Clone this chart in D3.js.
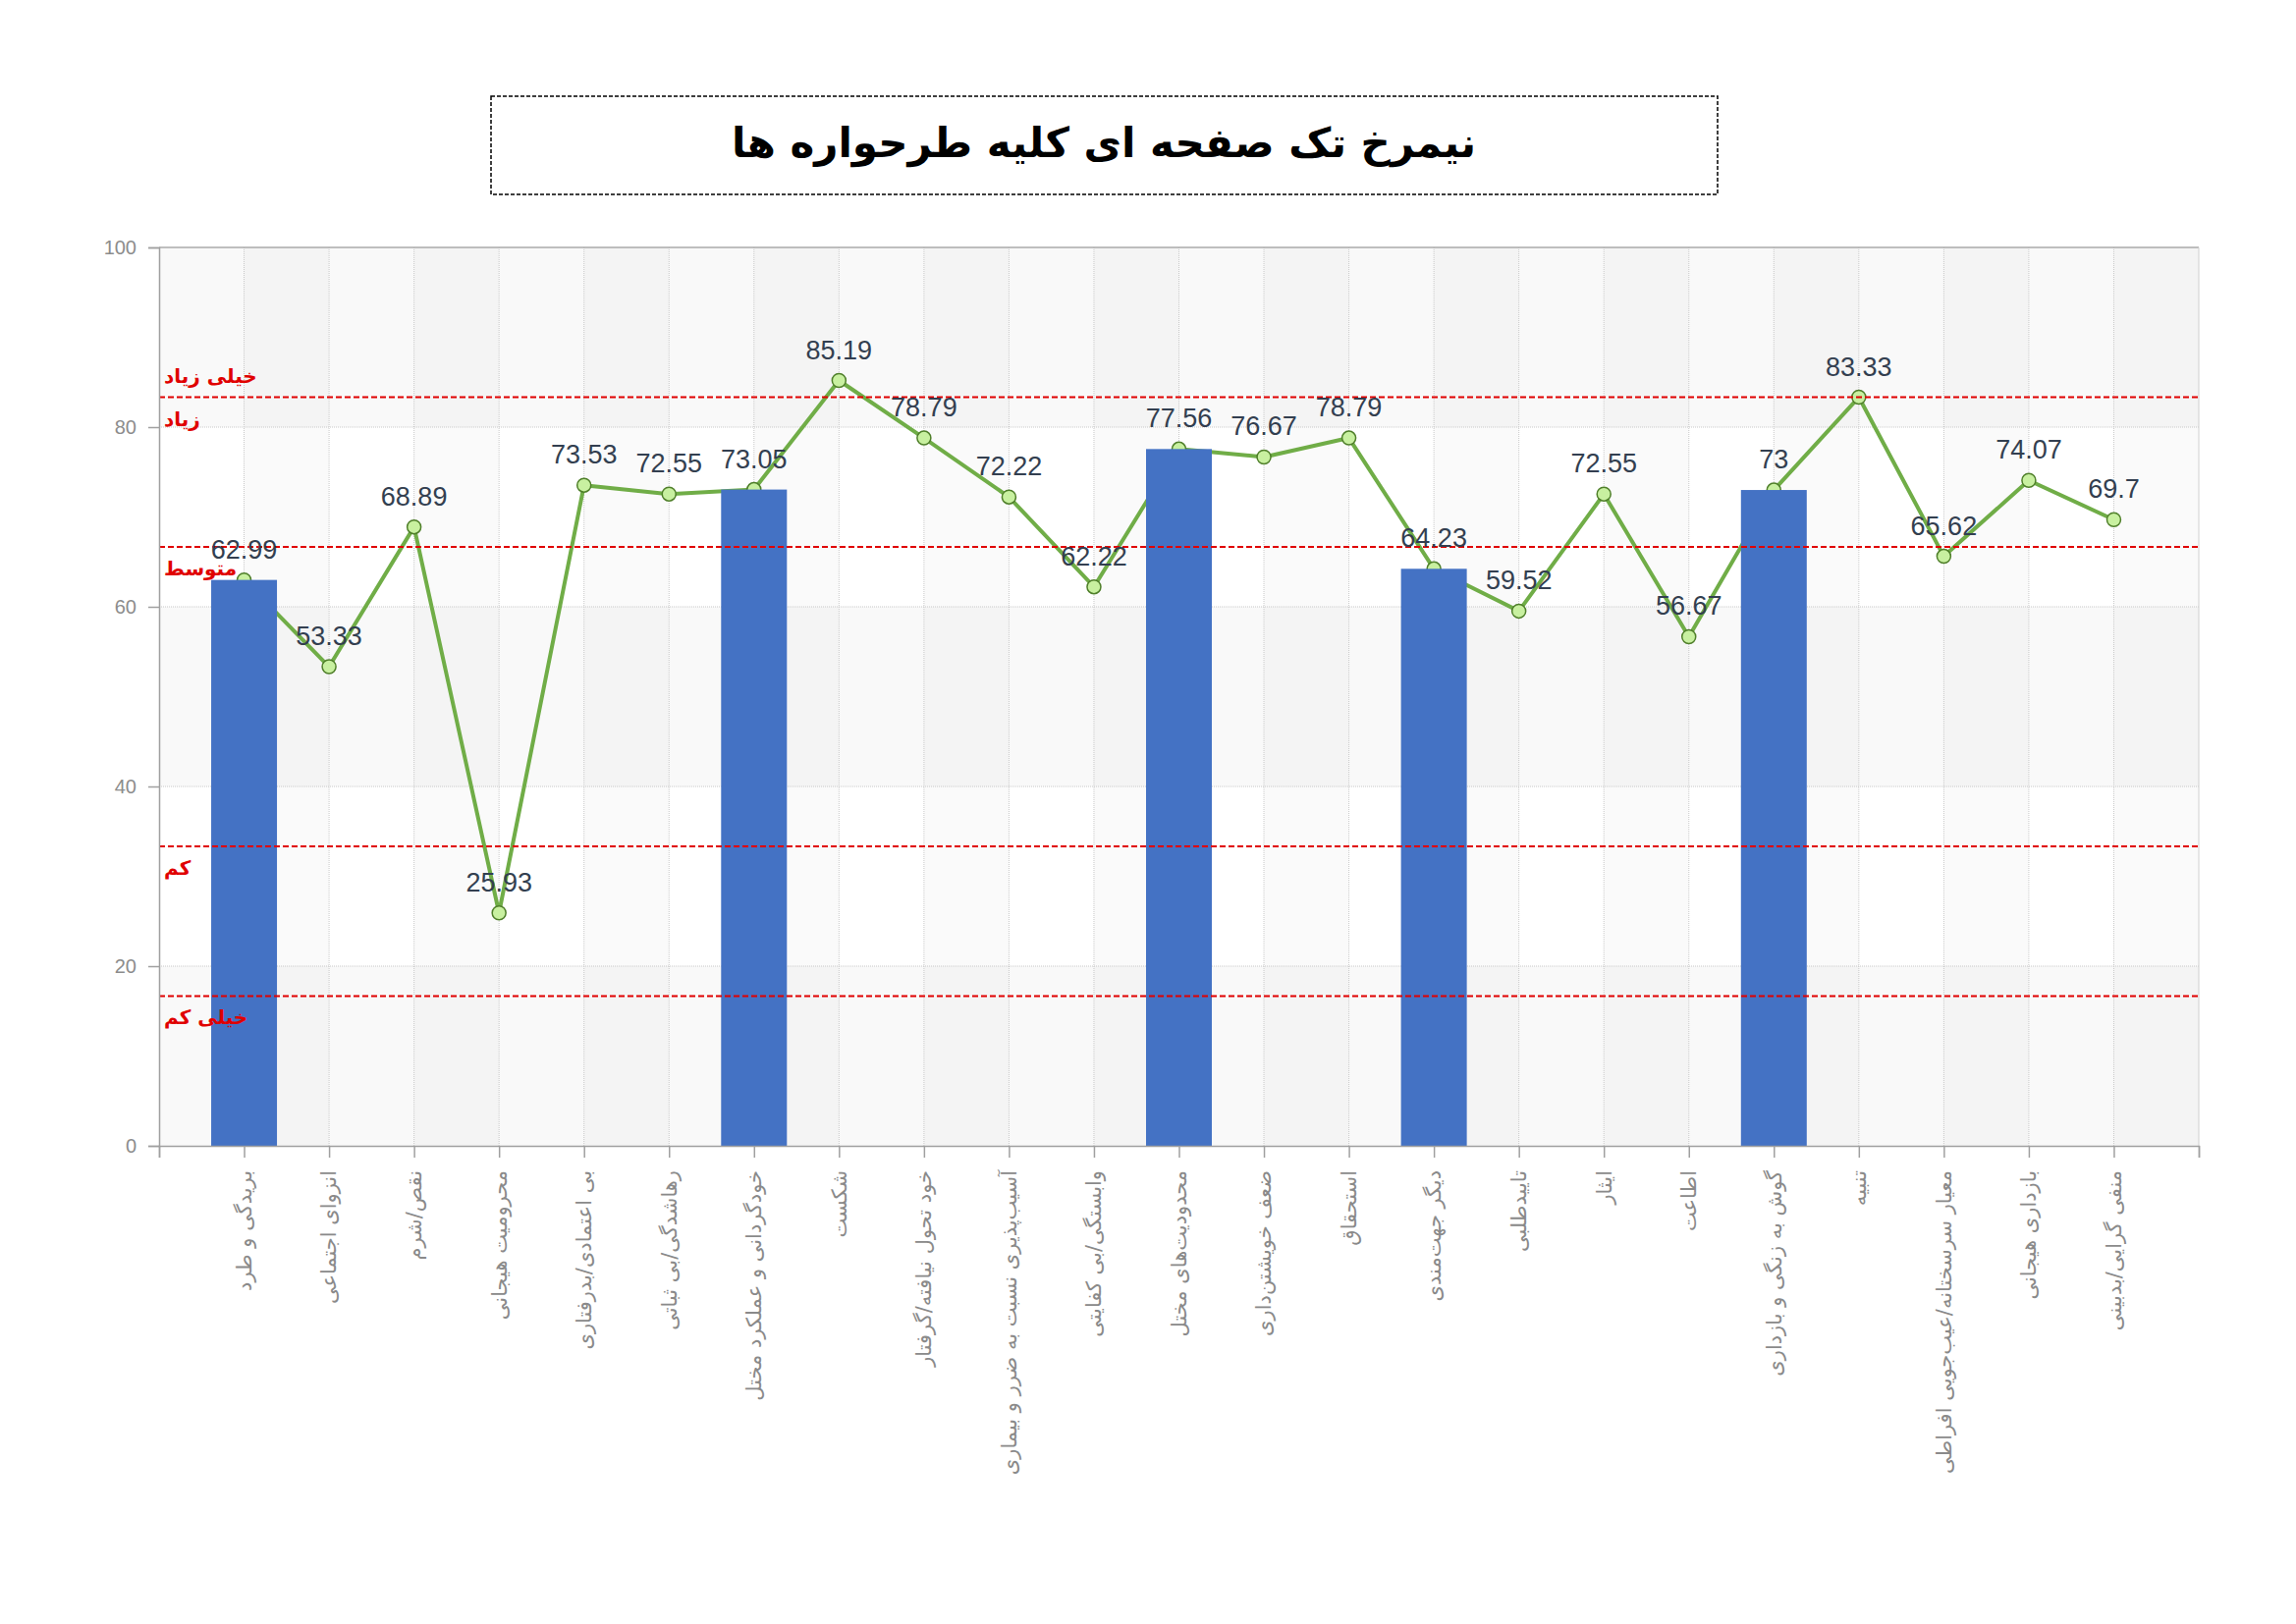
<!DOCTYPE html>
<html>
<head>
<meta charset="utf-8">
<script src="https://cdn.jsdelivr.net/npm/d3@7"></script>
<style>
  body { margin: 0; background: #fff; }
  svg { display: block; }
</style>
</head>
<body>
<svg id="chart" width="2338" height="1654"></svg>
<script>
// chart data
var title = "نیمرخ تک صفحه ای کلیه طرحواره ها";

var categories = [
  "بریدگی و طرد", "انزوای اجتماعی", "نقص/شرم", "محرومیت هیجانی",
  "بی اعتمادی/بدرفتاری", "رهاشدگی/بی ثباتی", "خودگردانی و عملکرد مختل", "شکست",
  "خود تحول نیافته/گرفتار", "آسیب‌پذیری نسبت به ضرر و بیماری", "وابستگی/بی کفایتی", "محدودیت‌های  مختل",
  "ضعف  خویشتن‌داری", "استحقاق", "دیگر جهت‌مندی", "تاییدطلبی",
  "ایثار", "اطاعت", "گوش به زنگی و بازداری", "تنبیه",
  "معیار سرسختانه/عیب‌جویی  افراطی", "بازداری هیجانی", "منفی گرایی/بدبینی"
];

var lineValues = [
  62.99, 53.33, 68.89, 25.93, 73.53, 72.55, 73.05, 85.19,
  78.79, 72.22, 62.22, 77.56, 76.67, 78.79, 64.23, 59.52,
  72.55, 56.67, 73, 83.33, 65.62, 74.07, 69.7
];

// domain totals shown as bars (null = no bar)
var barValues = [
  62.99, null, null, null, null, null, 73.05, null,
  null, null, null, 77.56, null, null, 64.23, null,
  null, null, 73, null, null, null, null
];

var yTicks = [0, 20, 40, 60, 80, 100];

var levelLines = [16.67, 33.33, 66.67, 83.33];
var levelLabels = ["خیلی کم", "کم", "متوسط", "زیاد", "خیلی زیاد"];
var levelLabelAt = [16.67, 33.33, 66.67, 83.33, 83.33];

// layout
var plotL = 162, plotR = 2239, plotT = 252, plotB = 1167;

var svg = d3.select("#chart");

// title box
svg.append("rect")
  .attr("x", 500).attr("y", 98)
  .attr("width", 1249).attr("height", 100)
  .attr("fill", "none")
  .attr("stroke", "#000")
  .attr("stroke-width", 1.5)
  .attr("stroke-dasharray", "4,2");

svg.append("text")
  .attr("x", 1124).attr("y", 145)
  .attr("text-anchor", "middle")
  .attr("dominant-baseline", "central")
  .attr("direction", "rtl")
  .style("font-family", "'DejaVu Sans'")
  .style("font-weight", "bold")
  .style("font-size", "42px")
  .style("fill", "#000")
  .text(title);

// scales: categories sit on ticks 0..n-1, with one empty slot each side
var x = d3.scaleLinear().domain([-1, categories.length]).range([plotL, plotR]);
var y = d3.scaleLinear().domain([0, 100]).range([plotB, plotT]);

var g = svg.append("g");

// alternating column bands
var colIdx = d3.range(-1, categories.length);
g.selectAll(".colband")
  .data(colIdx.filter(function(i) { return i >= 0 && i % 2 == 0; }))
  .enter().append("rect")
  .attr("x", function(i) { return x(i); })
  .attr("y", plotT)
  .attr("width", function(i) { return x(i + 1) - x(i); })
  .attr("height", plotB - plotT)
  .attr("fill", "#000")
  .attr("fill-opacity", 0.018);

// alternating row bands
g.selectAll(".rowband")
  .data([0, 40, 80])
  .enter().append("rect")
  .attr("x", plotL)
  .attr("y", function(v) { return y(v + 20); })
  .attr("width", plotR - plotL)
  .attr("height", function(v) { return y(v) - y(v + 20); })
  .attr("fill", "#000")
  .attr("fill-opacity", 0.022);

// grid lines
g.selectAll(".vgrid")
  .data(d3.range(0, categories.length))
  .enter().append("line")
  .attr("x1", function(i) { return x(i); })
  .attr("x2", function(i) { return x(i); })
  .attr("y1", plotT).attr("y2", plotB)
  .attr("stroke", "#c8c8c8")
  .attr("stroke-dasharray", "1,1");

g.selectAll(".hgrid")
  .data(yTicks.slice(1, -1))
  .enter().append("line")
  .attr("x1", plotL).attr("x2", plotR)
  .attr("y1", function(v) { return y(v); })
  .attr("y2", function(v) { return y(v); })
  .attr("stroke", "#c8c8c8")
  .attr("stroke-dasharray", "1,1");

// plot frame
g.append("line").attr("x1", plotL).attr("x2", plotR).attr("y1", plotT).attr("y2", plotT)
  .attr("stroke", "#aaa").attr("stroke-width", 1.5);
g.append("line").attr("x1", plotR).attr("x2", plotR).attr("y1", plotT).attr("y2", plotB)
  .attr("stroke", "#d0d0d0");

// y axis
var yAxis = d3.axisLeft(y).tickValues(yTicks).tickSize(11).tickPadding(12);
var ya = svg.append("g").attr("transform", "translate(" + plotL + ",0)").call(yAxis);
ya.select(".domain").attr("stroke", "#a0a0a0").attr("stroke-width", 1.5);
ya.selectAll(".tick line").attr("stroke", "#a0a0a0").attr("stroke-width", 1.5);
ya.selectAll(".tick text")
  .style("font-family", "'Liberation Sans', Arial")
  .style("font-size", "20px")
  .style("fill", "#8c8c8c");

// x axis
var xAxis = d3.axisBottom(x).tickValues(colIdx.concat([categories.length])).tickSize(12).tickFormat("");
var xa = svg.append("g").attr("transform", "translate(0," + plotB + ")").call(xAxis);
xa.select(".domain").attr("stroke", "#a0a0a0").attr("stroke-width", 1.5);
xa.selectAll(".tick line").attr("stroke", "#a0a0a0").attr("stroke-width", 1.5);

svg.append("g").selectAll("text")
  .data(categories)
  .enter().append("text")
  .attr("transform", function(d, i) { return "translate(" + x(i) + "," + (plotB + 25) + ") rotate(-90)"; })
  .attr("dy", "0.35em")
  .attr("direction", "rtl")
  .attr("text-anchor", "start")
  .style("font-family", "'DejaVu Sans'")
  .style("font-size", "21px")
  .style("fill", "#8a8a8a")
  .text(function(d) { return d; });

// line series
var line = d3.line()
  .x(function(d, i) { return x(i); })
  .y(function(d) { return y(d); });

g.append("path")
  .datum(lineValues)
  .attr("d", line)
  .attr("fill", "none")
  .attr("stroke", "#70ad47")
  .attr("stroke-width", 4)
  .attr("stroke-linejoin", "round");

g.selectAll(".marker")
  .data(lineValues)
  .enter().append("circle")
  .attr("cx", function(d, i) { return x(i); })
  .attr("cy", function(d) { return y(d); })
  .attr("r", 7)
  .attr("fill", "#c8f0a0")
  .attr("stroke", "#4f7f2a")
  .attr("stroke-width", 1.5);

// bars
var barW = 67;
g.selectAll(".bar")
  .data(barValues.map(function(v, i) { return { i: i, v: v }; }).filter(function(d) { return d.v != null; }))
  .enter().append("rect")
  .attr("x", function(d) { return x(d.i) - barW / 2; })
  .attr("y", function(d) { return y(d.v); })
  .attr("width", barW)
  .attr("height", function(d) { return plotB - y(d.v); })
  .attr("fill", "#4472c4");

// level lines
g.selectAll(".level")
  .data(levelLines)
  .enter().append("line")
  .attr("x1", plotL).attr("x2", plotR)
  .attr("y1", function(v) { return y(v); })
  .attr("y2", function(v) { return y(v); })
  .attr("stroke", "#e00000")
  .attr("stroke-width", 2)
  .attr("stroke-dasharray", "6,3");

g.selectAll(".levellabel")
  .data(levelLabels)
  .enter().append("text")
  .attr("x", 167)
  .attr("y", function(d, i) { return y(levelLabelAt[i]) + (i == levelLabels.length - 1 ? -22 : 22); })
  .attr("dominant-baseline", "central")
  .attr("direction", "rtl")
  .attr("text-anchor", "end")
  .style("font-family", "'DejaVu Sans'")
  .style("font-weight", "bold")
  .style("font-size", "20px")
  .style("fill", "#e00000")
  .text(function(d) { return d; });

// data labels
g.selectAll(".vlabel")
  .data(lineValues)
  .enter().append("text")
  .attr("x", function(d, i) { return x(i); })
  .attr("y", function(d) { return y(d) - 31; })
  .attr("dominant-baseline", "central")
  .attr("text-anchor", "middle")
  .style("font-family", "'Liberation Sans', Arial")
  .style("font-size", "27px")
  .style("fill", "#333f50")
  .text(function(d) { return d; });
</script>
</body>
</html>
